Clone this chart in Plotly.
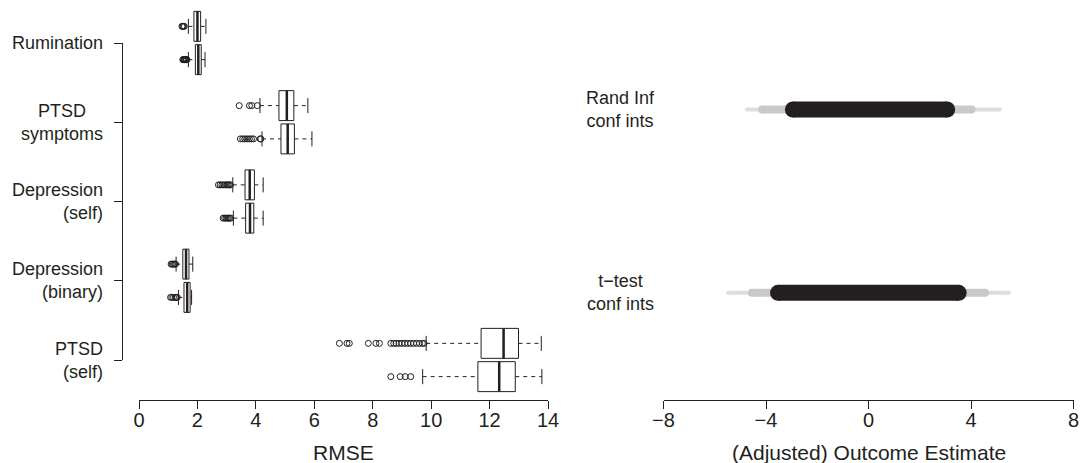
import plotly.graph_objects as go

# ---------------- data ----------------
groups = ["Rumination", "PTSD<br>symptoms", "Depression<br>(self)",
          "Depression<br>(binary)", "PTSD<br>(self)"]
group_align = ["right", "center", "right", "right", "right"]

# two boxes per group (upper, lower)
lower_whisker = [1.69, 1.69, 4.14, 4.21, 3.21, 3.23, 1.27, 1.35, 9.83, 9.71]
q1 = [1.88, 1.93, 4.79, 4.86, 3.63, 3.65, 1.50, 1.54, 11.71, 11.60]
median = [2.00, 2.03, 5.06, 5.09, 3.79, 3.80, 1.61, 1.65, 12.48, 12.33]
q3 = [2.11, 2.13, 5.30, 5.32, 3.95, 3.93, 1.71, 1.75, 12.99, 12.88]
upper_whisker = [2.29, 2.26, 5.78, 5.92, 4.25, 4.25, 1.84, 1.80, 13.77, 13.79]
outliers = [
    [1.47, 1.50, 1.52, 1.55],
    [1.50, 1.52, 1.54, 1.56, 1.58, 1.60, 1.62, 1.64],
    [3.43, 3.78, 3.86, 4.05],
    [3.47, 3.55, 3.62, 3.70, 3.78, 3.85, 3.92, 4.15, 4.17],
    [2.72, 2.78, 2.84, 2.90, 2.96, 3.01, 3.05, 3.09, 3.13],
    [2.88, 2.93, 2.98, 3.02, 3.06, 3.10, 3.14],
    [1.10, 1.14, 1.18, 1.22, 1.25],
    [1.08, 1.12, 1.18, 1.24, 1.28, 1.31],
    [6.86, 7.12, 7.20, 7.85, 8.11, 8.23, 8.62, 8.72, 8.80, 8.90, 9.00,
     9.10, 9.20, 9.30, 9.40, 9.50, 9.60, 9.70, 9.76],
    [8.62, 8.94, 9.11, 9.30],
]

ci_rows = ["Rand Inf<br>conf ints", "t\u2212test<br>conf ints"]
ci_outer_lo = [-4.74, -5.48]
ci_outer_hi = [5.12, 5.48]
ci_mid_lo = [-4.15, -4.55]
ci_mid_hi = [4.02, 4.55]
ci_inner_lo = [-2.95, -3.53]
ci_inner_hi = [3.07, 3.52]

rmse_ticks = [0, 2, 4, 6, 8, 10, 12, 14]
est_ticks = [-8, -4, 0, 4, 8]

# ---------------- style ----------------
INK = "#231F20"
FONT = "Liberation Sans, Arial, Helvetica, sans-serif"
W, H = 1083, 463
OFF = 0.21      # box offset from group centre (axis units)
HALF = 0.189    # half box height
CAP = 0.095     # half staple height

group_pos = [i + 1 for i in range(len(groups))]
box_pos = []
for p in group_pos:
    box_pos += [p - OFF, p + OFF]

fig = go.Figure()

# whiskers (dashed)
wx, wy = [], []
for i, y in enumerate(box_pos):
    wx += [lower_whisker[i], q1[i], None, q3[i], upper_whisker[i], None]
    wy += [y, y, None, y, y, None]
fig.add_trace(go.Scatter(x=wx, y=wy, mode="lines", xaxis="x", yaxis="y",
                         line=dict(color=INK, width=1, dash="4px,4px"),
                         hoverinfo="skip", showlegend=False))

# staples
sx, sy = [], []
for i, y in enumerate(box_pos):
    for v in (lower_whisker[i], upper_whisker[i]):
        sx += [v, v, None]
        sy += [y - CAP, y + CAP, None]
fig.add_trace(go.Scatter(x=sx, y=sy, mode="lines", xaxis="x", yaxis="y",
                         line=dict(color=INK, width=1),
                         hoverinfo="skip", showlegend=False))

# boxes
for i, y in enumerate(box_pos):
    fig.add_trace(go.Scatter(
        x=[q1[i], q3[i], q3[i], q1[i], q1[i]],
        y=[y - HALF, y - HALF, y + HALF, y + HALF, y - HALF],
        mode="lines", fill="toself", fillcolor="white",
        line=dict(color=INK, width=1), xaxis="x", yaxis="y",
        hoverinfo="skip", showlegend=False))

# medians
mx, my = [], []
for i, y in enumerate(box_pos):
    mx += [median[i], median[i], None]
    my += [y - HALF, y + HALF, None]
fig.add_trace(go.Scatter(x=mx, y=my, mode="lines", xaxis="x", yaxis="y",
                         line=dict(color=INK, width=2.5),
                         hoverinfo="skip", showlegend=False))

# outliers
ox, oy = [], []
for i, y in enumerate(box_pos):
    ox += outliers[i]
    oy += [y] * len(outliers[i])
fig.add_trace(go.Scatter(x=ox, y=oy, mode="markers", xaxis="x", yaxis="y",
                         marker=dict(symbol="circle-open", size=6,
                                     color=INK, line=dict(width=1)),
                         hoverinfo="skip", showlegend=False))

# dummy trace for the category spine axis
fig.add_trace(go.Scatter(x=[None], y=[None], xaxis="x", yaxis="y2",
                         mode="markers", hoverinfo="skip", showlegend=False))

# confidence interval bars (right panel)
row_pos = [i + 1 for i in range(len(ci_rows))]
layers = [(ci_outer_lo, ci_outer_hi, "#DCDDDF", 4),
          (ci_mid_lo, ci_mid_hi, "#C8C9CB", 8),
          (ci_inner_lo, ci_inner_hi, INK, 16)]
for lo, hi, col, w in layers:
    for j, y in enumerate(row_pos):
        fig.add_trace(go.Scatter(
            x=[lo[j], hi[j]], y=[y, y], mode="lines+markers",
            line=dict(color=col, width=w),
            marker=dict(color=col, size=w, line=dict(width=0)),
            xaxis="x2", yaxis="y3", hoverinfo="skip", showlegend=False))

# ---------------- layout ----------------
def px_x(p):
    return p / W

def px_y(p):
    return (H - p) / H

unit_l = 79.25
yl_top = 1 - 43 / unit_l
yl_bot = 1 + (400 - 43) / unit_l
unit_r = 183.3
yr_top = 1 - 109.5 / unit_r
yr_bot = 1 + (400 - 109.5) / unit_r

axis_common = dict(showgrid=False, zeroline=False, showline=True,
                   linecolor=INK, linewidth=1, ticks="outside", ticklen=8,
                   tickwidth=1, tickcolor=INK, automargin=False,
                   ticklabelstandoff=-6,
                   tickfont=dict(family=FONT, size=20, color=INK))
hidden_y = dict(showline=False, showticklabels=False, showgrid=False,
                zeroline=False, ticks="", automargin=False)

fig.update_layout(
    template="none",
    width=W, height=H, autosize=False,
    margin=dict(l=0, r=0, t=0, b=0, pad=0, autoexpand=False),
    paper_bgcolor="white", plot_bgcolor="rgba(0,0,0,0)",
    showlegend=False,
    xaxis=dict(domain=[px_x(139), px_x(548)], range=[0, 14], anchor="y",
               tickvals=rmse_ticks, **axis_common),
    yaxis=dict(domain=[px_y(400), 1], range=[yl_bot, yl_top], anchor="x",
               **hidden_y),
    yaxis2=dict(domain=[px_y(360), px_y(43)], range=[5, 1], anchor="free",
                position=px_x(122), showline=True, linecolor=INK, linewidth=1,
                ticks="outside", ticklen=8, tickcolor=INK, tickwidth=1,
                tickvals=group_pos, showticklabels=False, showgrid=False,
                zeroline=False, automargin=False),
    xaxis2=dict(domain=[px_x(663.5), px_x(1073.5)], range=[-8, 8], anchor="y3",
                tickvals=est_ticks, **axis_common),
    yaxis3=dict(domain=[px_y(400), 1], range=[yr_bot, yr_top], anchor="x2",
                **hidden_y),
)

ann = []
for g, p, al in zip(groups, group_pos, group_align):
    ann.append(dict(text=g, x=px_x(105), xref="paper", xanchor="right",
                    y=p, yref="y2", yanchor="middle", align=al,
                    showarrow=False,
                    font=dict(family=FONT, size=18, color=INK)))
for r, p in zip(ci_rows, row_pos):
    ann.append(dict(text=r, x=px_x(620), xref="paper", xanchor="center",
                    y=p, yref="y3", yanchor="middle", align="center",
                    showarrow=False,
                    font=dict(family=FONT, size=18, color=INK)))
ann.append(dict(text="RMSE", x=px_x(343.5), xref="paper", xanchor="center",
                y=px_y(452), yref="paper", yanchor="middle", showarrow=False,
                font=dict(family=FONT, size=21, color=INK)))
ann.append(dict(text="(Adjusted) Outcome Estimate", x=px_x(868.5),
                xref="paper", xanchor="center", y=px_y(452), yref="paper",
                yanchor="middle", showarrow=False,
                font=dict(family=FONT, size=21, color=INK)))
fig.update_layout(annotations=ann)

fig.write_html("out.html",
               config={"displayModeBar": False, "staticPlot": True},
               post_script="document.body.style.margin='0';")
